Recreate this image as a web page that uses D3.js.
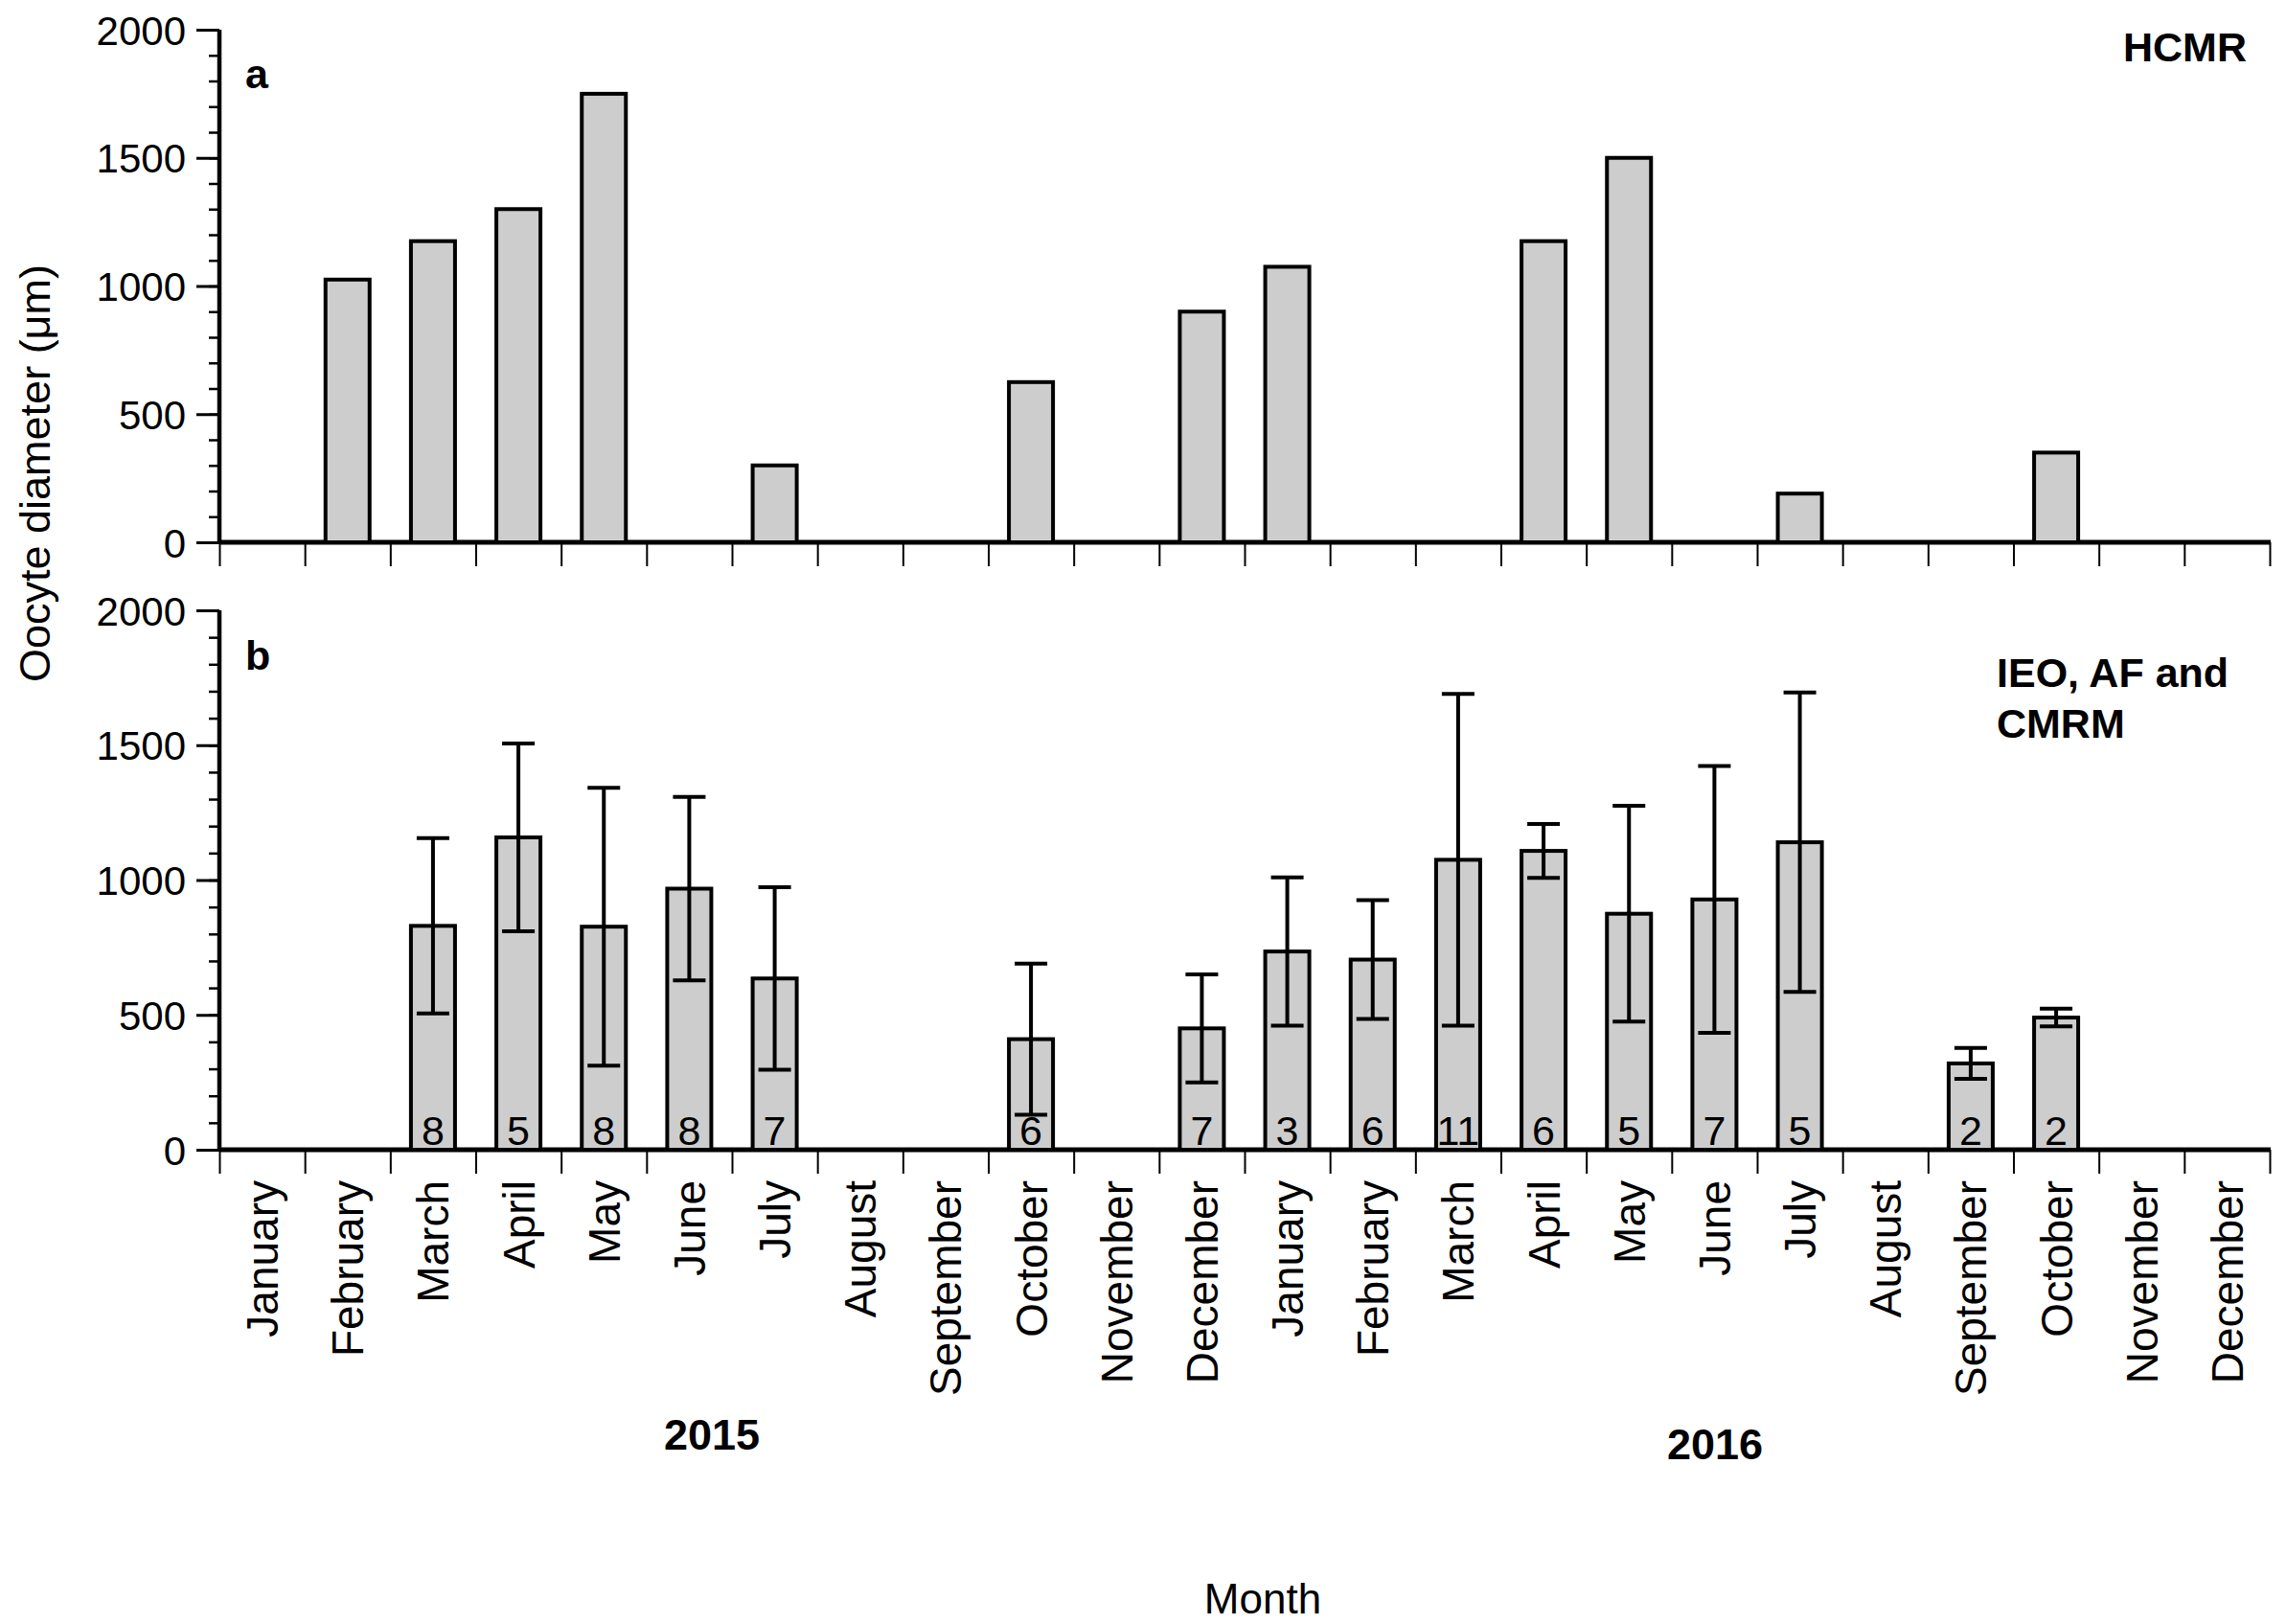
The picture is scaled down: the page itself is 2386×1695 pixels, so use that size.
<!DOCTYPE html>
<html>
<head>
<meta charset="utf-8">
<script src="https://cdn.jsdelivr.net/npm/d3@7"></script>
<style>
  body { margin: 0; background: #fff; }
  svg text { font-family: "Liberation Sans", Arial, Helvetica, sans-serif; fill: #000; }
</style>
</head>
<body>
<svg id="chart" width="2386" height="1695"></svg>
<script>
// 24 monthly samples, Jan 2015 .. Dec 2016
var periods = ['2015-01', '2015-02', '2015-03', '2015-04', '2015-05', '2015-06',
               '2015-07', '2015-08', '2015-09', '2015-10', '2015-11', '2015-12',
               '2016-01', '2016-02', '2016-03', '2016-04', '2016-05', '2016-06',
               '2016-07', '2016-08', '2016-09', '2016-10', '2016-11', '2016-12'];
var monthNames = ['January', 'February', 'March', 'April', 'May', 'June', 'July',
                  'August', 'September', 'October', 'November', 'December',
                  'January', 'February', 'March', 'April', 'May', 'June', 'July',
                  'August', 'September', 'October', 'November', 'December'];

// panel a - HCMR
var hcmrDiameter = [null, 1025, 1175, 1300, 1750, null, 300, null, null, 625, null, 900,
                    1075, null, null, 1175, 1500, null, 190, null, null, 350, null, null];

// panel b - IEO, AF and CMRM (mean, sd, n)
var ieoMean = [null, null, 830, 1158, 827, 968, 635, null, null, 410, null, 450,
               735, 705, 1075, 1108, 875, 928, 1140, null, 320, 490, null, null];
var ieoSd = [null, null, 325, 348, 515, 340, 338, null, null, 280, null, 200,
             275, 220, 615, 100, 400, 495, 555, null, 57, 33, null, null];
var ieoN = [null, null, 8, 5, 8, 8, 7, null, null, 6, null, 7,
            3, 6, 11, 6, 5, 7, 5, null, 2, 2, null, null];

var yMajor = [0, 500, 1000, 1500, 2000];
var years = [{label: '2015', x: 743, y: 1513}, {label: '2016', x: 1790, y: 1523}];

var svg = d3.select('#chart'),
    left = 229,
    right = 2369,
    barFill = '#cdcdcd';

var x = d3.scaleBand()
    .domain(periods)
    .range([left, right])
    .paddingInner(0.484)
    .paddingOuter(0.242);

// band edges for the tick marks
var edge = d3.scaleLinear().domain([0, periods.length]).range([left, right]);

var panels = [
    {top: 31, bottom: 566, letter: 'a', letterY: 92},
    {top: 637, bottom: 1200, letter: 'b', letterY: 699}
];

panels.forEach(function (p) {
    p.y = d3.scaleLinear().domain([0, 2000]).range([p.bottom, p.top]);
});

/**
 * draws the axes for one panel
 * @param  {Object} p - panel description
 */
var drawAxes = function (p) {
    var g = svg.append('g');

    // minor y ticks
    g.append('g')
        .attr('transform', 'translate(' + left + ',0)')
        .call(d3.axisLeft(p.y).tickValues(d3.range(0, 2001, 100)).tickSize(11).tickFormat(''))
        .call(function (s) { s.select('.domain').remove(); })
        .selectAll('line').attr('stroke-width', 2.5);

    var yAx = g.append('g')
        .attr('transform', 'translate(' + left + ',0)')
        .call(d3.axisLeft(p.y).tickValues(yMajor).tickSize(24).tickPadding(11).tickFormat(d3.format('d')));
    yAx.select('.domain').remove();
    yAx.selectAll('line').attr('stroke-width', 3);
    yAx.selectAll('text').attr('font-size', 42).attr('dy', '0.36em');

    g.append('line')
        .attr('x1', left).attr('x2', left)
        .attr('y1', p.y(0)).attr('y2', p.y(2000))
        .attr('stroke', '#000').attr('stroke-width', 4.5);

    // x tick marks at band edges
    g.append('g')
        .attr('transform', 'translate(0,' + p.bottom + ')')
        .call(d3.axisBottom(edge).tickValues(d3.range(0, periods.length + 1)).tickSize(25).tickFormat(''))
        .call(function (s) { s.select('.domain').remove(); })
        .selectAll('line').attr('stroke-width', 2);

    g.append('line')
        .attr('x1', left).attr('x2', right + 1)
        .attr('y1', p.y(0)).attr('y2', p.y(0))
        .attr('stroke', '#000').attr('stroke-width', 5);

    g.append('text')
        .attr('x', 256).attr('y', p.letterY)
        .attr('font-size', 43).attr('font-weight', 'bold')
        .text(p.letter);
};

panels.forEach(drawAxes);

var pa = panels[0], pb = panels[1];

// panel a bars
svg.append('g').selectAll('rect')
    .data(periods.filter(function (d, i) { return hcmrDiameter[i] != null; }))
    .enter().append('rect')
    .attr('x', function (d) { return x(d); })
    .attr('width', x.bandwidth())
    .attr('y', function (d) { return pa.y(hcmrDiameter[periods.indexOf(d)]); })
    .attr('height', function (d) { return pa.y(0) - pa.y(hcmrDiameter[periods.indexOf(d)]); })
    .attr('fill', barFill).attr('stroke', '#000').attr('stroke-width', 4);

svg.append('text')
    .attr('x', 2345).attr('y', 64)
    .attr('text-anchor', 'end').attr('font-size', 43).attr('font-weight', 'bold')
    .text('HCMR');

// panel b bars with sd and n
var rowsB = periods.map(function (d, i) {
    return {key: d, mean: ieoMean[i], sd: ieoSd[i], n: ieoN[i]};
}).filter(function (d) { return d.mean != null; });

var bar = svg.append('g').selectAll('g')
    .data(rowsB)
    .enter().append('g');

bar.append('rect')
    .attr('x', function (d) { return x(d.key); })
    .attr('width', x.bandwidth())
    .attr('y', function (d) { return pb.y(d.mean); })
    .attr('height', function (d) { return pb.y(0) - pb.y(d.mean); })
    .attr('fill', barFill).attr('stroke', '#000').attr('stroke-width', 4);

bar.append('text')
    .attr('x', function (d) { return x(d.key) + x.bandwidth() / 2; })
    .attr('y', pb.y(0) - 5)
    .attr('text-anchor', 'middle').attr('font-size', 43)
    .text(function (d) { return d.n; });

var cap = 17;
bar.append('path')
    .attr('d', function (d) {
        var cx = x(d.key) + x.bandwidth() / 2,
            hi = pb.y(d.mean + d.sd),
            lo = pb.y(d.mean - d.sd);
        return 'M' + cx + ',' + hi + 'V' + lo +
            'M' + (cx - cap) + ',' + hi + 'H' + (cx + cap) +
            'M' + (cx - cap) + ',' + lo + 'H' + (cx + cap);
    })
    .attr('fill', 'none').attr('stroke', '#000').attr('stroke-width', 4);

svg.append('text')
    .attr('font-size', 43).attr('font-weight', 'bold')
    .selectAll('tspan')
    .data(['IEO, AF and', 'CMRM'])
    .enter().append('tspan')
    .attr('x', 2084)
    .attr('y', function (d, i) { return 717 + i * 53; })
    .text(function (d) { return d; });

// month labels under panel b
var xLab = svg.append('g')
    .attr('transform', 'translate(0,' + pb.bottom + ')')
    .call(d3.axisBottom(x).tickSize(0).tickFormat(function (d, i) { return monthNames[i]; }));
xLab.select('.domain').remove();
xLab.selectAll('text')
    .attr('font-size', 46)
    .attr('text-anchor', 'end')
    .attr('transform', 'rotate(-90)')
    .attr('x', -32)
    .attr('y', 0)
    .attr('dy', '0.36em');

svg.selectAll('.year')
    .data(years)
    .enter().append('text')
    .attr('class', 'year')
    .attr('x', function (d) { return d.x; })
    .attr('y', function (d) { return d.y; })
    .attr('text-anchor', 'middle').attr('font-size', 45).attr('font-weight', 'bold')
    .text(function (d) { return d.label; });

svg.append('text')
    .attr('x', 1318).attr('y', 1684)
    .attr('text-anchor', 'middle').attr('font-size', 44)
    .text('Month');

svg.append('text')
    .attr('transform', 'translate(52,494) rotate(-90)')
    .attr('text-anchor', 'middle').attr('font-size', 45)
    .text('Oocyte diameter (\u03bcm)');
</script>
</body>
</html>
